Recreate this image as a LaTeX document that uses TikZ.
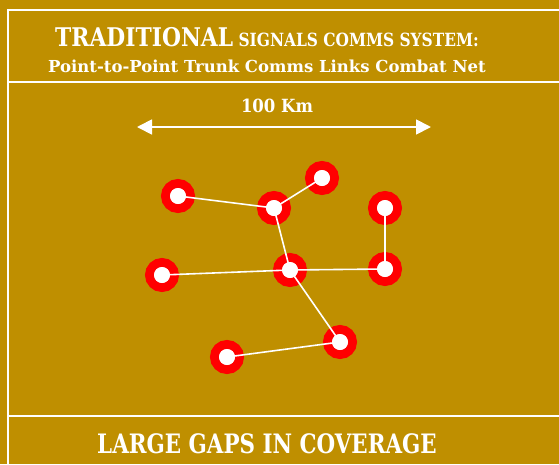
\documentclass[tikz,border=0pt]{standalone}
\usepackage{fontspec}
\usetikzlibrary{arrows.meta}
\setmainfont{DejaVu Serif}
\definecolor{bg}{HTML}{BF8F00}
\definecolor{ring}{HTML}{FF0000}
\tikzset{
  x=1pt,y=-1pt,
  site/.style={circle,fill=white,draw=ring,line width=9pt,minimum size=25pt,inner sep=0pt},
  link/.style={white,line width=1.6pt},
  frameline/.style={white,line width=2pt},
  txt/.style={text=white,font=\bfseries,inner sep=0pt}
}
\begin{document}
\begin{tikzpicture}
\fill[bg] (0,0) rectangle (559,464);
\useasboundingbox (0,0) rectangle (559,464);
\draw[frameline] (8,464) -- (8,10) -- (559,10);
\draw[frameline] (8,82) -- (559,82);
\draw[frameline] (8,416) -- (559,416);
\node[txt,anchor=base] (t1) at (267,46) {\scalebox{1}[1.18]{\fontsize{21.8}{26}\selectfont TRADITIONAL\fontsize{15.4}{20}\selectfont\ SIGNALS COMMS SYSTEM:}};
\node[txt,anchor=base] (t2) at (267,72) {\fontsize{16.5}{20}\selectfont Point-to-Point Trunk Comms Links Combat Net};
\node[txt,anchor=base] (t3) at (267,453) {\scalebox{1}[1.25]{\fontsize{21.4}{26}\selectfont LARGE GAPS IN COVERAGE}};
\node[txt,anchor=base] (km) at (277,112) {\scalebox{1}[1.1]{\fontsize{16.5}{18}\selectfont 100 Km}};
\coordinate (al) at (137,127);
\coordinate (ar) at (431,127);
\draw[white,line width=1.8pt,{Triangle[length=15pt,width=15pt]}-{Triangle[length=15pt,width=15pt]}] (al) -- (ar);
\node[site] (A) at (178,196) {};
\node[site] (B) at (274,208) {};
\node[site] (C) at (322,178) {};
\node[site] (D) at (385,208) {};
\node[site] (E) at (162,275) {};
\node[site] (F) at (290,270) {};
\node[site] (G) at (385,269) {};
\node[site] (H) at (340,342) {};
\node[site] (I) at (227,357) {};
\draw[link] (A.center) -- (B.center);
\draw[link] (B.center) -- (C.center);
\draw[link] (B.center) -- (F.center);
\draw[link] (E.center) -- (F.center);
\draw[link] (F.center) -- (G.center);
\draw[link] (G.center) -- (D.center);
\draw[link] (F.center) -- (H.center);
\draw[link] (H.center) -- (I.center);
\foreach \n in {A,B,C,D,E,F,G,H,I} \fill[white] (\n) circle (8);
\end{tikzpicture}
\end{document}
